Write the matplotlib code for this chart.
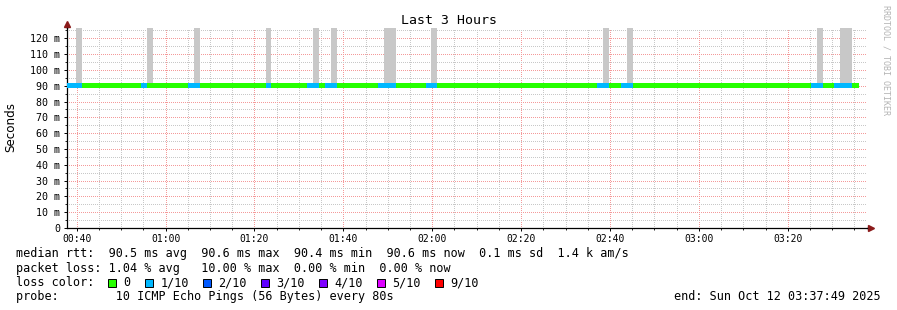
import numpy as np
import matplotlib
matplotlib.use("Agg")
import matplotlib.pyplot as plt
from matplotlib.patches import Rectangle
from matplotlib.ticker import MultipleLocator, FixedLocator, FuncFormatter

plt.rcParams['font.family'] = ['DejaVu Sans Mono']

# ---- data (one value per 80 s step, first step partly before the window) ----
start_min = 37 + 49 / 60.0       # 00:37:49
span_min = 180.0                 # last 3 hours
step_min = 80 / 60.0

# median rtt per step (ms)
median = [
    90.6, 90.6, 90.6, 90.4, 90.4, 90.4, 90.6, 90.4, 90.6, 90.6,
    90.4, 90.4, 90.6, 90.6, 90.6, 90.4, 90.4, 90.4, 90.6, 90.6,
    90.6, 90.6, 90.6, 90.4, 90.4, 90.6, 90.6, 90.6, 90.6, 90.4,
    90.6, 90.4, 90.4, 90.4, 90.6, 90.6, 90.4, 90.6, 90.4, 90.6,
    90.6, 90.6, 90.6, 90.6, 90.6, 90.6, 90.4, 90.4, 90.6, 90.6,
    90.4, 90.4, 90.4, 90.6, 90.6, 90.6, 90.4, 90.4, 90.6, 90.4,
    90.4, 90.6, 90.6, 90.4, 90.4, 90.6, 90.4, 90.4, 90.4, 90.4,
    90.4, 90.4, 90.6, 90.4, 90.6, 90.6, 90.6, 90.4, 90.4, 90.4,
    90.4, 90.4, 90.6, 90.6, 90.4, 90.4, 90.4, 90.4, 90.6, 90.4,
    90.6, 90.6, 90.4, 90.6, 90.6, 90.6, 90.4, 90.4, 90.4, 90.4,
    90.4, 90.6, 90.6, 90.4, 90.4, 90.6, 90.6, 90.4, 90.6, 90.4,
    90.6, 90.4, 90.4, 90.4, 90.6, 90.4, 90.4, 90.4, 90.4, 90.6,
    90.4, 90.4, 90.6, 90.4, 90.4, 90.4, 90.6, 90.6, 90.4, 90.4,
    90.6, 90.6, 90.6, 90.4,
]

# lost pings per step (out of 10)
loss = [
    1, 1, 1, 0, 0, 0, 0, 0, 0, 0,
    0, 0, 0, 1, 0, 0, 0, 0, 0, 0,
    0, 1, 1, 0, 0, 0, 0, 0, 0, 0,
    0, 0, 0, 0, 1, 0, 0, 0, 0, 0,
    0, 1, 1, 0, 1, 1, 0, 0, 0, 0,
    0, 0, 0, 1, 1, 1, 0, 0, 0, 0,
    0, 1, 1, 0, 0, 0, 0, 0, 0, 0,
    0, 0, 0, 0, 0, 0, 0, 0, 0, 0,
    0, 0, 0, 0, 0, 0, 0, 0, 0, 0,
    1, 1, 0, 0, 1, 1, 0, 0, 0, 0,
    0, 0, 0, 0, 0, 0, 0, 0, 0, 0,
    0, 0, 0, 0, 0, 0, 0, 0, 0, 0,
    0, 0, 0, 0, 0, 0, 1, 1, 0, 0,
    1, 1, 1, 0,
]

# slowest ping per step (ms), spikes run off the top of the graph
smoke_max = [
    90.7, 90.7, 135.0, 90.7, 90.7, 90.7, 90.7, 90.7, 90.7, 90.7,
    90.7, 90.7, 90.7, 90.7, 135.0, 90.7, 90.7, 90.7, 90.7, 90.7,
    90.7, 90.7, 135.0, 90.7, 90.7, 90.7, 90.7, 90.7, 90.7, 90.7,
    90.7, 90.7, 90.7, 90.7, 135.0, 90.7, 90.7, 90.7, 90.7, 90.7,
    90.7, 90.7, 135.0, 90.7, 90.7, 135.0, 90.7, 90.7, 90.7, 90.7,
    90.7, 90.7, 90.7, 90.7, 135.0, 135.0, 90.7, 90.7, 90.7, 90.7,
    90.7, 90.7, 135.0, 90.7, 90.7, 90.7, 90.7, 90.7, 90.7, 90.7,
    90.7, 90.7, 90.7, 90.7, 90.7, 90.7, 90.7, 90.7, 90.7, 90.7,
    90.7, 90.7, 90.7, 90.7, 90.7, 90.7, 90.7, 90.7, 90.7, 90.7,
    90.7, 135.0, 90.7, 90.7, 90.7, 135.0, 90.7, 90.7, 90.7, 90.7,
    90.7, 90.7, 90.7, 90.7, 90.7, 90.7, 90.7, 90.7, 90.7, 90.7,
    90.7, 90.7, 90.7, 90.7, 90.7, 90.7, 90.7, 90.7, 90.7, 90.7,
    90.7, 90.7, 90.7, 90.7, 90.7, 90.7, 90.7, 135.0, 90.7, 90.7,
    90.7, 135.0, 135.0, 90.7,
]

loss_labels = ['0', '1/10', '2/10', '3/10', '4/10', '5/10', '9/10']
loss_levels = [0, 1, 2, 3, 4, 5, 9]
loss_colors = ['#26ff00', '#00b8ff', '#0059ff', '#5e00ff', '#7e00ff', '#dd00ff', '#ff0000']

stats_rtt = "median rtt:  90.5 ms avg  90.6 ms max  90.4 ms min  90.6 ms now  0.1 ms sd  1.4 k am/s"
stats_loss = "packet loss: 1.04 % avg   10.00 % max  0.00 % min  0.00 % now"
probe_txt = "probe:        10 ICMP Echo Pings (56 Bytes) every 80s"
end_txt = "end: Sun Oct 12 03:37:49 2025"

# ---- figure ----
W, H = 897, 310
fig = plt.figure(figsize=(W / 100, H / 100), dpi=100)
fig.patch.set_facecolor('white')
ax = fig.add_axes([67 / W, 1 - 228 / H, 800 / W, 200 / H])

median = np.array(median)
smoke_max = np.array(smoke_max)
n = len(median)
x0 = start_min + (np.arange(n) - 0.5) * step_min
x1 = x0 + step_min

col_of = dict(zip(loss_levels, loss_colors))

ax.bar(x0, smoke_max - median, bottom=median, width=step_min, align='edge',
       color='#c8c8c8', linewidth=0, zorder=2)
ax.hlines(median, x0, x1, colors=[col_of[l] for l in loss], linewidth=2.2,
          antialiased=False, zorder=3)

ax.set_xlim(start_min, start_min + span_min)
ax.set_ylim(0, 126.5)

# major grid every 20 min / 10 ms, minor grid in between every 5
xmin5 = np.arange(40, 220, 5)
ymin5 = np.arange(5, 130, 10)
ax.xaxis.set_major_locator(MultipleLocator(20))
ax.xaxis.set_minor_locator(FixedLocator(xmin5[xmin5 % 20 != 0]))
ax.yaxis.set_major_locator(MultipleLocator(10))
ax.yaxis.set_minor_locator(FixedLocator(ymin5))
ax.xaxis.set_major_formatter(FuncFormatter(lambda v, p: "%02d:%02d" % (int(round(v)) // 60, int(round(v)) % 60)))
ax.yaxis.set_major_formatter(FuncFormatter(lambda v, p: "0" if v == 0 else "%d m" % v))

ax.set_axisbelow(True)
ax.grid(which='minor', color='#c8c8c8', linestyle=(0, (1, 2)), linewidth=0.72,
        antialiased=False)
ax.grid(which='major', color='#f49a9a', linestyle=(0, (1, 2)), linewidth=0.72,
        antialiased=False)

for s in ['top', 'right']:
    ax.spines[s].set_visible(False)
for s in ['left', 'bottom']:
    ax.spines[s].set_linewidth(0.9)
    ax.spines[s].set_color('black')

ax.tick_params(which='major', length=2.5, width=0.7, direction='out', labelsize=7.2, pad=2.5)
ax.tick_params(which='minor', length=1.2, width=0.6, direction='out')
ax.tick_params(axis='x', labelsize=7, pad=1.5)

# axis arrows
ax.plot([0, 0], [1, 1.02], color='black', lw=0.9, transform=ax.transAxes, clip_on=False)
ax.plot([1, 1.004], [0, 0], color='black', lw=0.9, transform=ax.transAxes, clip_on=False)
ax.plot([0], [1.022], marker='^', ms=4, color='#8b1a1a', transform=ax.transAxes, clip_on=False)
ax.plot([1.005], [0], marker='>', ms=4, color='#8b1a1a', transform=ax.transAxes, clip_on=False)

fig.text(0.5, 1 - 20 / H, 'Last 3 Hours', ha='center', va='center', fontsize=9.5)
fig.text(11 / W, 1 - 127 / H, 'Seconds', rotation=90, ha='center', va='center',
         fontsize=8.6, family='DejaVu Sans')
fig.text(886 / W, 1 - 60 / H, 'RRDTOOL / TOBI OETIKER', rotation=270, ha='center',
         va='center', fontsize=6, color='#b4b4b4')

fs = 8.45
fig.text(16 / W, 1 - 254 / H, stats_rtt, ha='left', va='center', fontsize=fs)
fig.text(16 / W, 1 - 268.5 / H, stats_loss, ha='left', va='center', fontsize=fs)
fig.text(16 / W, 1 - 282.5 / H, 'loss color:', ha='left', va='center', fontsize=fs)
fig.text(16 / W, 1 - 296.5 / H, probe_txt, ha='left', va='center', fontsize=fs)
fig.text(881 / W, 1 - 296.5 / H, end_txt, ha='right', va='center', fontsize=fs)

# loss colour legend
x = 108.3
for lab, c in zip(loss_labels, loss_colors):
    fig.add_artist(Rectangle((x / W, 1 - 286.5 / H), 8 / W, 8 / H, facecolor=c,
                             edgecolor='black', linewidth=0.7))
    fig.text((x + 15.3) / W, 1 - 282.5 / H, lab, ha='left', va='center', fontsize=fs)
    x += 15.3 + len(lab) * 7.05 + 14.5

fig.savefig('out.png', dpi=100)
